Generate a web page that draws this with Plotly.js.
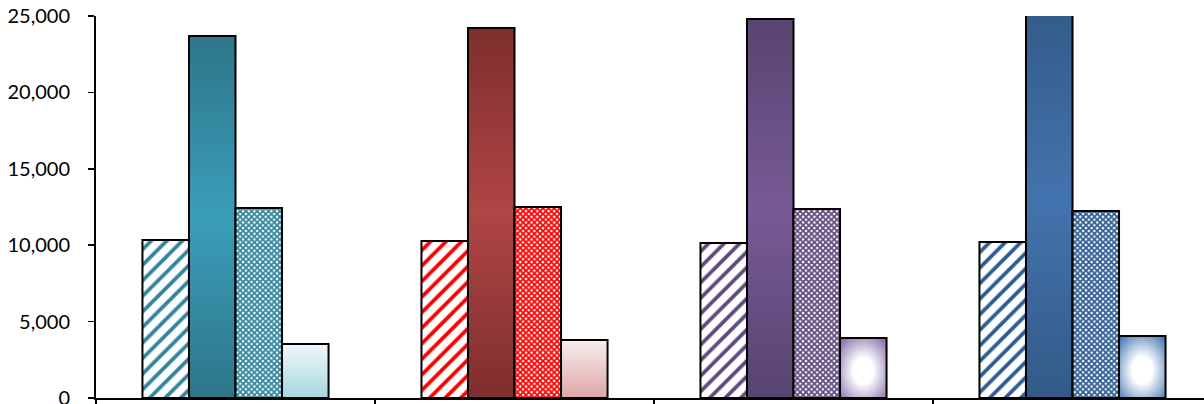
<!DOCTYPE html>
<html><head><meta charset="utf-8">
<script src="https://cdn.plot.ly/plotly-3.0.1.min.js"></script>
<style>html,body{margin:0;padding:0;background:#fff;}#chart{width:1204px;height:404px;}</style>
</head><body><div id="chart"></div>
<script>
// ---- data ----
const categories = ["Group 1", "Group 2", "Group 3", "Group 4"];
const seriesA = [10340, 10275, 10144, 10210];
const seriesB = [23690, 24215, 24800, 26000];
const seriesC = [12435, 12500, 12370, 12238];
const seriesD = [3534, 3796, 3927, 4058];
const yTicks = [0, 5000, 10000, 15000, 20000, 25000];

// ---- styles ----
const baseColors = ["#31859C", "#FF0000", "#604A7B", "#2E5C93"];
const midColors  = ["#3A9EBA", "#B04545", "#775A96", "#4373AE"];
const edgeColors = ["#2E7589", "#7E2E2E", "#584470", "#335A88"];
const lightTop   = ["#F0F8FA", "#F8EEEE", "#FFFFFF", "#FFFFFF"];
const lightBot   = ["#A6D6E0", "#DEA5A5", "#8068A6", "#3E70B0"];
const radial     = [false, false, true, true];

const line = {color: "#000", width: 2};
const traces = [
  {type: "bar", x: categories, y: seriesA,
   marker: {color: "#fff", line: line,
     pattern: {shape: "/", fgcolor: baseColors, bgcolor: "#fff", size: 11, solidity: 0.34, fillmode: "replace"}}},
  {type: "bar", x: categories, y: seriesB, marker: {color: midColors, line: line}},
  {type: "bar", x: categories, y: seriesC,
   marker: {color: "#fff", line: line,
     pattern: {shape: "x", fgcolor: baseColors, bgcolor: "#fff", size: 4, solidity: 0.7, fillmode: "replace"}}},
  {type: "bar", x: categories, y: seriesD, marker: {color: lightBot, line: line}}
];

const layout = {
  width: 1204, height: 404,
  margin: {l: 96, r: 0, t: 16, b: 6},
  paper_bgcolor: "#fff", plot_bgcolor: "#fff",
  showlegend: false,
  barmode: "group", bargap: 0.333, bargroupgap: 0,
  font: {family: "Lato, 'Open Sans', sans-serif", size: 20, color: "#000"},
  xaxis: {type: "category", range: [-0.5, 3.4713], showticklabels: false,
    tickson: "boundaries", ticks: "outside", ticklen: 7, tickwidth: 1.5, tickcolor: "#000",
    showline: true, linecolor: "#000", linewidth: 2, showgrid: false, zeroline: false, fixedrange: true},
  yaxis: {range: [0, 25000], tickvals: yTicks, tickformat: ",", ticks: "outside", ticklen: 6,
    tickwidth: 1.5, tickcolor: "#000", ticklabelstandoff: 14, ticklabeloverflow: "allow",
    showline: true, linecolor: "#000", linewidth: 2, showgrid: false, zeroline: false, fixedrange: true}
};

Plotly.newPlot("chart", traces, layout, {staticPlot: true, displayModeBar: false}).then(function(gd) {
  const NS = "http://www.w3.org/2000/svg";
  const svg = gd.querySelector(".main-svg");
  let defs = svg.querySelector("defs");
  if (!defs) { defs = document.createElementNS(NS, "defs"); svg.insertBefore(defs, svg.firstChild); }
  function stop(g, off, col) {
    const s = document.createElementNS(NS, "stop");
    s.setAttribute("offset", off); s.setAttribute("stop-color", col); g.appendChild(s);
  }
  for (let j = 0; j < categories.length; j++) {
    const g1 = document.createElementNS(NS, "linearGradient");
    g1.setAttribute("id", "gB" + j); g1.setAttribute("x1", "0"); g1.setAttribute("y1", "0");
    g1.setAttribute("x2", "0"); g1.setAttribute("y2", "1");
    stop(g1, "0", edgeColors[j]); stop(g1, "0.5", midColors[j]); stop(g1, "1", edgeColors[j]);
    defs.appendChild(g1);
    let g2;
    if (radial[j]) {
      g2 = document.createElementNS(NS, "radialGradient");
      g2.setAttribute("id", "gD" + j); g2.setAttribute("cx", "0.5"); g2.setAttribute("cy", "0.55");
      g2.setAttribute("r", "0.72");
      stop(g2, "0", "#FFFFFF"); stop(g2, "0.3", "#FFFFFF"); stop(g2, "1", lightBot[j]);
    } else {
      g2 = document.createElementNS(NS, "linearGradient");
      g2.setAttribute("id", "gD" + j); g2.setAttribute("x1", "0"); g2.setAttribute("y1", "0");
      g2.setAttribute("x2", "0"); g2.setAttribute("y2", "1");
      stop(g2, "0", lightTop[j]); stop(g2, "1", lightBot[j]);
    }
    defs.appendChild(g2);
  }
  const tr = gd.querySelectorAll(".barlayer .trace");
  [[1, "gB"], [3, "gD"]].forEach(function(p) {
    const pts = tr[p[0]].querySelectorAll(".point path");
    pts.forEach(function(path, j) { path.style.fill = "url(#" + p[1] + j + ")"; });
  });
});
</script>
</body></html>
